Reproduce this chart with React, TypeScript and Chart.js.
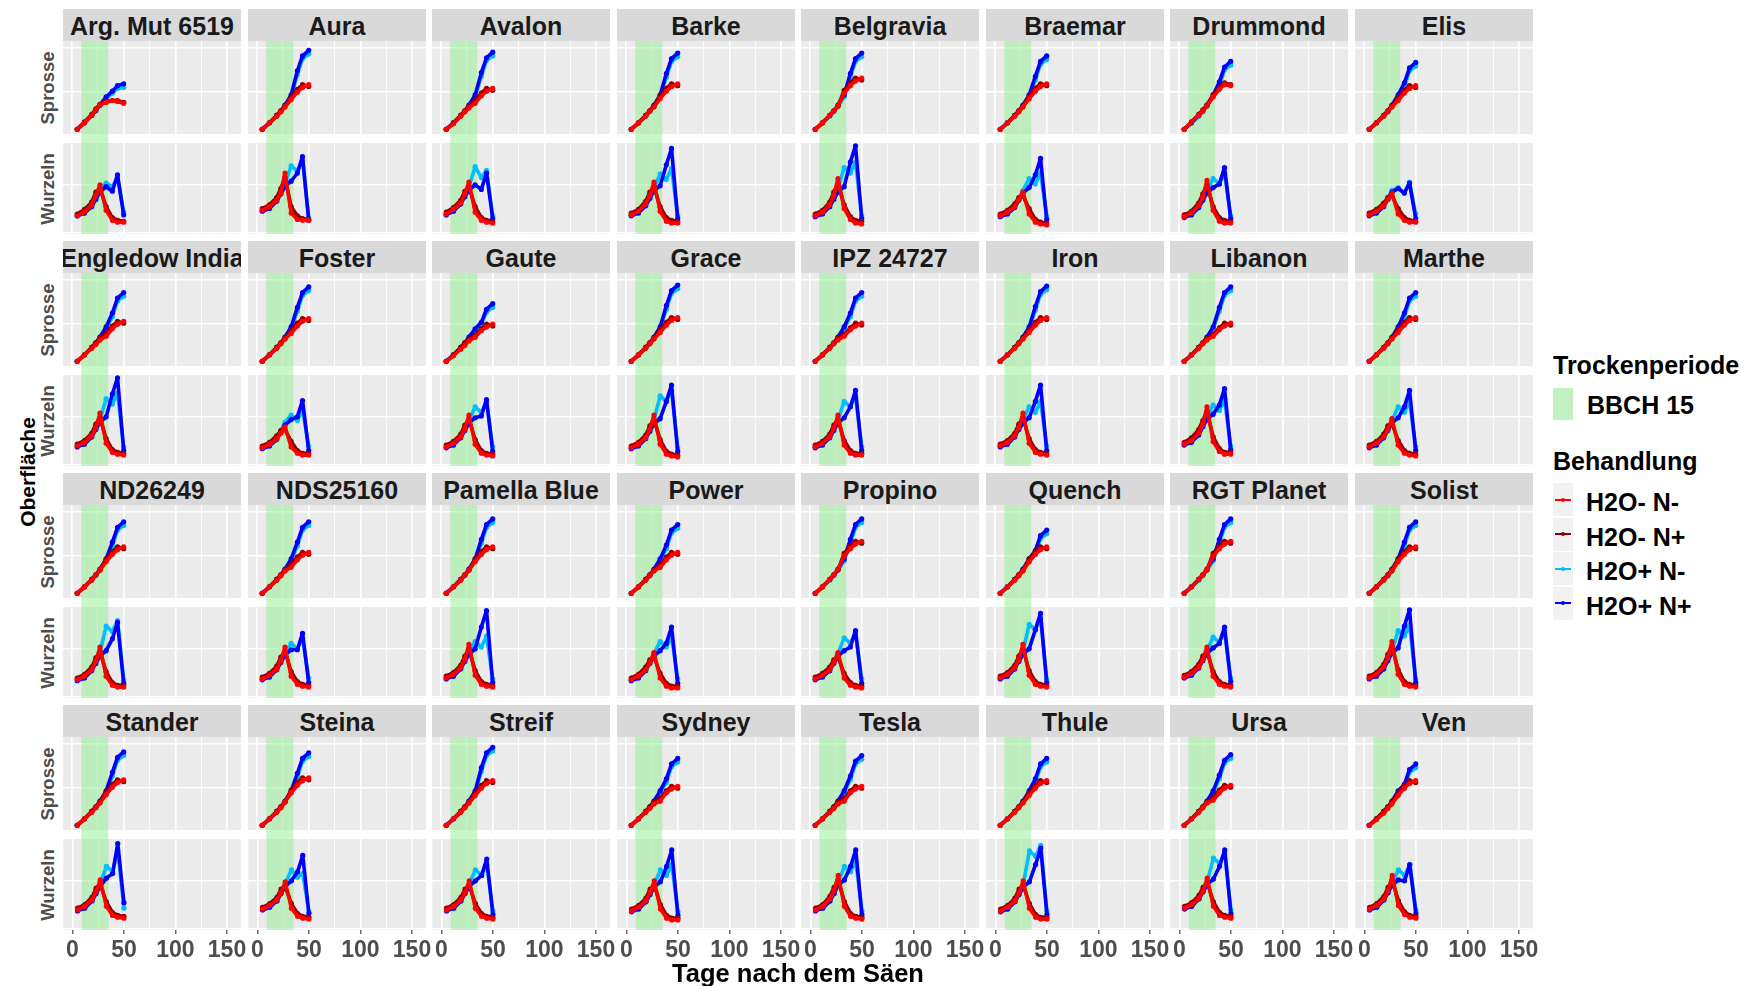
import React, { useEffect, useRef } from "react";
import { Chart, registerables } from "chart.js";
Chart.register(...registerables);

// ---------------- data ----------------
const VARIETIES = [
  "Arg. Mut 6519", "Aura", "Avalon", "Barke", "Belgravia", "Braemar", "Drummond", "Elis",
  "Engledow India", "Foster", "Gaute", "Grace", "IPZ 24727", "Iron", "Libanon", "Marthe",
  "ND26249", "NDS25160", "Pamella Blue", "Power", "Propino", "Quench", "RGT Planet", "Solist",
  "Stander", "Steina", "Streif", "Sydney", "Tesla", "Thule", "Ursa", "Ven",
];
const ORGANS = ["Sprosse", "Wurzeln"];
const TREATMENTS = ["H2O- N-", "H2O- N+", "H2O+ N-", "H2O+ N+"];
const TREATMENT_COLORS = ["#ff0000", "#8b0000", "#00bfff", "#0000ff"];
const DAYS = [5, 12, 19, 23, 27, 33, 39, 44, 50];
const DROUGHT_PERIOD = [9, 35];
const DROUGHT_LABEL = "BBCH 15";
const X_TICKS = [0, 25, 50, 75, 100, 125, 150];
const X_LABELED = [0, 50, 100, 150];
const X_LIMITS = [-8.8, 163.6];
const SPROSSE_GRID = [45.2, 93.2];
const WURZELN_GRID = [1.8, 54.4];

// Sprosse (shoot) – relative surface per day, one row per variety
const SPROSSE_H2O_MINUS_N_MINUS = [
  [5,12,20,26,31,34,36,35,33],[5,12,19,24,29,37,45,50,53],[5,11,19,24,28,33,41,46,49],[5,12,19,25,29,38,46,51,54],
  [5,12,20,25,30,44,52,57,60],[5,12,19,24,29,38,46,51,54],[5,13,20,25,30,40,48,53,52],[5,12,19,24,29,36,44,49,52],
  [5,12,19,23,28,32,40,45,48],[5,12,19,24,29,35,43,48,51],[5,11,18,22,27,31,38,42,45],[5,12,19,24,29,36,44,49,52],
  [5,12,19,24,28,32,39,43,46],[5,12,19,24,29,36,44,49,52],[5,12,19,24,28,32,39,43,46],[5,12,19,24,29,36,44,49,52],
  [5,12,19,25,30,39,47,52,55],[5,12,19,24,29,33,41,46,49],[5,12,19,25,30,39,47,52,55],[5,12,19,24,29,33,41,46,49],
  [5,12,20,25,31,45,53,58,61],[5,12,19,24,29,39,47,52,55],[5,12,20,25,31,45,53,58,61],[5,12,19,24,29,39,47,52,55],
  [5,12,19,24,29,38,46,51,54],[5,12,19,24,30,40,48,53,56],[5,12,19,24,29,37,45,50,53],[5,12,19,23,28,31,40,44,47],
  [5,12,19,23,28,31,40,44,47],[5,12,19,24,29,37,45,50,53],[5,12,19,24,29,32,40,45,48],[5,11,18,23,28,37,45,50,53],
];
const SPROSSE_H2O_MINUS_N_PLUS = [
  [5,13,21,27,32,35,36,36,34],[5,12,20,25,30,40,48,53,51],[5,12,20,25,30,36,44,49,47],[5,12,20,25,30,41,49,54,52],
  [5,12,20,25,30,47,55,60,58],[5,12,20,25,30,41,49,54,52],[5,13,21,26,31,42,50,55,53],[5,12,20,25,30,39,47,52,50],
  [5,12,20,25,30,35,43,48,46],[5,12,20,25,30,38,46,51,49],[5,12,20,25,29,33,40,45,43],[5,12,20,25,30,39,47,52,50],
  [5,12,20,25,30,34,41,46,44],[5,12,20,25,30,39,47,52,50],[5,12,20,25,30,34,41,46,44],[5,12,20,25,30,39,47,52,50],
  [5,12,20,25,30,42,50,55,53],[5,12,20,25,30,36,44,49,47],[5,12,20,25,30,42,50,55,53],[5,12,20,25,30,36,44,49,47],
  [5,12,20,25,30,48,56,61,59],[5,12,20,25,30,42,50,55,53],[5,12,20,25,30,48,56,61,59],[5,12,20,25,30,42,50,55,53],
  [5,12,20,25,30,41,49,54,52],[5,12,20,25,30,43,51,56,54],[5,12,20,25,30,40,48,53,51],[5,12,20,25,30,34,42,47,45],
  [5,12,20,25,30,34,42,47,45],[5,12,20,25,30,40,48,53,51],[5,12,20,25,30,35,43,48,46],[5,12,20,25,30,40,48,53,51],
];
const SPROSSE_H2O_PLUS_N_MINUS = [
  [5,12,20,26,31,38,44,49,50],[5,12,19,24,30,40,64,81,86],[5,12,19,24,30,40,62,79,84],[5,12,19,24,30,40,61,78,83],
  [5,12,19,24,30,40,61,78,83],[5,12,19,24,30,40,58,75,80],[5,12,19,24,30,40,52,69,74],[5,12,19,24,30,40,51,68,73],
  [5,12,19,24,30,40,53,70,75],[5,12,19,24,30,40,59,76,81],[5,12,19,24,30,38,45,58,63],[5,12,19,24,30,40,61,78,83],
  [5,12,19,24,30,40,53,70,75],[5,12,19,24,30,40,60,77,82],[5,12,19,24,30,40,59,76,81],[5,12,19,24,30,40,53,70,75],
  [5,12,19,24,30,40,56,73,78],[5,12,19,24,30,40,56,73,78],[5,12,19,24,30,40,59,76,81],[5,12,19,24,30,40,53,70,75],
  [5,12,19,24,30,40,59,76,81],[5,12,19,24,30,40,47,64,69],[5,12,19,24,30,40,59,76,81],[5,12,19,24,30,40,56,73,78],
  [5,12,19,24,30,40,58,75,80],[5,12,19,24,30,40,57,74,79],[5,12,19,24,30,40,63,80,85],[5,12,19,24,30,40,51,68,73],
  [5,12,19,24,30,40,54,71,76],[5,12,19,24,30,40,51,68,73],[5,12,19,24,30,40,55,72,77],[5,12,19,24,30,40,45,62,67],
];
const SPROSSE_H2O_PLUS_N_PLUS = [
  [5,12,20,25,31,40,46,52,54],[5,12,20,25,31,42,68,84,90],[5,12,20,25,31,42,66,82,88],[5,12,20,25,31,42,65,81,87],
  [5,12,20,25,31,42,65,81,87],[5,12,20,25,31,42,62,78,84],[5,12,20,25,31,42,56,72,78],[5,12,20,25,31,42,55,71,77],
  [5,12,20,25,31,42,57,73,79],[5,12,20,25,31,42,63,79,85],[5,12,20,25,31,40,47,61,67],[5,12,20,25,31,42,65,81,87],
  [5,12,20,25,31,42,57,73,79],[5,12,20,25,31,42,64,80,86],[5,12,20,25,31,42,63,79,85],[5,12,20,25,31,42,57,73,79],
  [5,12,20,25,31,42,60,76,82],[5,12,20,25,31,42,60,76,82],[5,12,20,25,31,42,63,79,85],[5,12,20,25,31,42,57,73,79],
  [5,12,20,25,31,42,63,79,85],[5,12,20,25,31,42,51,67,73],[5,12,20,25,31,42,63,79,85],[5,12,20,25,31,42,60,76,82],
  [5,12,20,25,31,42,62,78,84],[5,12,20,25,31,42,61,77,83],[5,12,20,25,31,42,67,83,89],[5,12,20,25,31,42,55,71,77],
  [5,12,20,25,31,42,58,74,80],[5,12,20,25,31,42,55,71,77],[5,12,20,25,31,42,59,75,81],[5,12,20,25,31,42,49,65,71],
];

// Wurzeln (roots)
const WURZELN_H2O_MINUS_N_MINUS = [
  [20,24,32,42,54,26,15,13,13],[26,30,37,45,67,23,16,15,15],[22,27,34,44,57,24,15,13,12],[21,25,33,42,57,25,14,12,12],
  [20,24,32,42,61,28,16,12,11],[20,24,30,38,46,22,13,11,10],[19,23,31,40,59,26,14,12,12],[21,25,31,38,45,22,15,13,13],
  [22,26,33,42,58,25,15,13,12],[20,24,30,36,43,21,14,12,12],[21,25,32,41,56,24,14,12,11],[20,24,31,40,56,24,13,11,10],
  [21,25,32,41,56,23,14,12,12],[22,26,33,42,58,25,15,13,12],[24,28,36,46,65,27,16,13,13],[21,25,32,40,52,23,14,12,11],
  [20,24,31,40,56,24,14,12,12],[21,25,32,41,56,24,15,13,12],[22,26,33,42,59,25,15,13,12],[20,24,31,39,50,22,13,11,11],
  [21,25,31,39,50,22,14,12,11],[22,26,33,42,59,25,15,13,12],[23,27,34,42,56,24,15,13,12],[22,26,34,44,62,26,15,13,12],
  [22,26,33,42,55,26,16,14,13],[23,27,33,41,53,24,15,13,12],[22,26,33,41,54,24,15,13,12],[21,25,32,41,54,23,13,11,11],
  [22,26,34,43,60,26,15,13,12],[21,25,32,41,54,24,14,12,12],[24,28,35,43,57,26,16,14,13],[23,27,34,43,60,27,17,14,13],
];
const WURZELN_H2O_MINUS_N_PLUS = [
  [22,27,35,46,50,30,18,15,14],[28,32,40,50,62,30,20,17,16],[24,29,37,47,52,30,18,15,14],[23,27,36,46,52,30,18,15,14],
  [22,26,35,46,56,32,19,15,14],[22,26,33,40,42,28,16,13,12],[21,25,34,44,54,30,18,15,14],[23,27,34,40,42,28,18,15,14],
  [24,28,36,46,53,30,18,15,14],[22,26,33,39,40,27,17,14,14],[23,27,35,45,51,29,17,14,13],[22,26,34,44,51,29,16,13,12],
  [23,27,35,45,51,28,17,14,14],[24,28,36,46,53,30,18,15,14],[26,31,40,50,60,32,19,15,15],[23,27,35,44,47,28,17,14,13],
  [22,26,34,44,51,29,17,14,14],[23,27,35,45,51,29,18,15,14],[24,28,36,46,54,30,18,15,14],[22,26,34,42,45,27,16,13,13],
  [23,27,34,42,45,27,17,14,13],[24,28,36,46,54,30,18,15,14],[25,29,37,46,51,29,18,15,14],[24,28,37,48,57,31,18,15,14],
  [24,28,36,46,50,31,19,16,15],[25,29,36,45,48,29,18,15,14],[24,28,36,45,49,29,18,15,14],[23,27,35,45,49,28,16,13,13],
  [24,28,37,47,55,31,18,15,14],[23,27,35,45,49,29,17,14,14],[26,30,38,47,52,31,19,16,15],[25,29,37,47,55,32,20,16,15],
];
const WURZELN_H2O_PLUS_N_MINUS = [
  [20,23,31,40,50,56,52,62,24],[26,29,37,46,55,75,69,81,18],[22,26,34,43,52,74,62,70,20],[21,24,32,41,50,66,60,72,20],
  [20,23,31,40,50,73,67,79,20],[20,23,30,39,48,61,55,67,20],[19,22,30,39,48,61,55,67,20],[21,24,31,40,48,51,45,57,22],
  [22,25,33,42,51,74,68,80,21],[20,23,30,39,48,56,50,62,22],[21,24,32,41,50,65,59,71,21],[20,23,31,40,50,77,71,83,20],
  [21,24,32,41,50,71,65,77,21],[22,25,33,42,50,65,59,71,22],[24,27,35,45,54,67,61,73,22],[21,24,32,41,50,65,59,71,21],
  [20,23,31,40,50,79,73,85,20],[21,24,32,41,50,60,54,66,22],[22,25,33,42,51,62,56,68,21],[20,23,31,40,49,62,56,68,21],
  [21,24,31,40,49,66,60,72,21],[22,25,33,42,51,81,75,87,21],[23,26,34,43,52,67,61,73,22],[22,25,33,43,52,74,68,80,21],
  [22,25,33,42,51,70,64,88,24],[23,26,33,42,51,66,58,62,20],[22,25,33,42,51,66,60,72,21],[21,24,32,41,50,66,60,72,20],
  [22,25,33,42,52,70,64,76,21],[21,24,32,41,50,87,81,93,21],[24,27,35,44,53,79,73,85,22],[23,26,34,43,52,66,60,72,22],
];
const WURZELN_H2O_PLUS_N_PLUS = [
  [20,23,30,38,46,52,47,65,21],[25,28,36,44,52,58,67,85,15],[21,25,33,41,48,54,49,67,17],[20,23,31,39,47,53,76,94,17],
  [19,22,30,38,46,52,79,97,17],[19,22,29,37,45,51,65,83,16],[18,21,29,37,45,51,55,73,17],[20,23,30,38,46,50,45,56,17],
  [21,24,32,40,48,54,79,97,17],[19,22,29,37,45,51,54,72,17],[20,23,31,39,47,53,55,73,16],[19,22,30,38,46,52,71,89,16],
  [20,23,31,39,47,53,65,83,17],[21,24,32,40,47,53,71,89,17],[23,26,34,43,51,57,67,85,18],[20,23,31,39,47,53,65,83,17],
  [19,22,30,38,46,52,65,83,16],[20,23,31,39,47,53,53,71,17],[21,24,32,40,48,54,78,96,17],[19,22,30,38,46,52,60,78,16],
  [20,23,30,38,46,52,56,74,16],[21,24,32,40,48,54,75,93,17],[22,25,33,41,49,55,60,78,18],[21,24,32,41,49,55,79,97,17],
  [21,24,32,40,48,57,62,95,30],[22,25,32,40,48,54,64,82,18],[21,24,32,40,48,54,60,78,17],[20,23,31,39,47,53,70,88,16],
  [21,24,32,40,49,55,70,88,17],[20,23,31,39,47,53,72,90,17],[23,26,34,42,50,56,70,88,18],[22,25,33,41,49,55,54,72,18],
];

const SERIES_BY_ORGAN = [
  [SPROSSE_H2O_MINUS_N_MINUS, SPROSSE_H2O_MINUS_N_PLUS, SPROSSE_H2O_PLUS_N_MINUS, SPROSSE_H2O_PLUS_N_PLUS],
  [WURZELN_H2O_MINUS_N_MINUS, WURZELN_H2O_MINUS_N_PLUS, WURZELN_H2O_PLUS_N_MINUS, WURZELN_H2O_PLUS_N_PLUS],
];
const GRID_BY_ORGAN = [SPROSSE_GRID, WURZELN_GRID];
const DRAW_ORDER = [0, 1, 3, 2]; // first one ends on top

// ---------------- layout ----------------
const FONT = '"Liberation Sans", Arial, Helvetica, sans-serif';
const NCOL = 8;
const NROW = 4;
const LEFT0 = 63;
const COL_STEP = 184.5;
const PANEL_W = 178;
const TOP0 = 9;
const BLOCK_STEP = 232;
const STRIP_H = 32;
const S_OFF = 32;
const S_H = 93;
const W_OFF = 134;
const W_H = 91;
const GAP_EXT = 9;
const TICK_AREA = 40;
const RIGHT_EXT = 26;

const panelDeco = {
  id: "panelDeco",
  beforeDraw(chart: any) {
    const { ctx, chartArea: a } = chart;
    ctx.save();
    ctx.fillStyle = "#ebebeb";
    ctx.fillRect(a.left, a.top, a.right - a.left, a.bottom - a.top);
    ctx.restore();
  },
  beforeDatasetsDraw(chart: any, _a: any, opts: any) {
    const { ctx, chartArea: a, scales } = chart;
    const x0 = scales.x.getPixelForValue(DROUGHT_PERIOD[0]);
    const x1 = scales.x.getPixelForValue(DROUGHT_PERIOD[1]);
    ctx.save();
    ctx.fillStyle = "rgba(144,238,144,0.5)";
    ctx.fillRect(x0, a.top, x1 - x0, a.bottom - a.top + (opts.extend || 0));
    ctx.restore();
  },
};

function Panel({ vi, organ }: { vi: number; organ: number }) {
  const ref = useRef<HTMLCanvasElement>(null);
  const row = Math.floor(vi / NCOL);
  const col = vi % NCOL;
  const bottomRow = organ === 1 && row === NROW - 1;
  const h = organ === 0 ? S_H : W_H;
  const ext = organ === 0 ? GAP_EXT : 0;
  const cw = PANEL_W + (bottomRow ? RIGHT_EXT : 0);
  const ch = h + ext + (bottomRow ? TICK_AREA : 0);
  const left = Math.round(LEFT0 + col * COL_STEP);
  const top = TOP0 + row * BLOCK_STEP + (organ === 0 ? S_OFF : W_OFF);

  useEffect(() => {
    const series = SERIES_BY_ORGAN[organ];
    const datasets = DRAW_ORDER.map((t) => ({
      label: TREATMENTS[t],
      data: DAYS.map((d, i) => ({ x: d, y: series[t][vi][i] })),
      borderColor: TREATMENT_COLORS[t],
      backgroundColor: TREATMENT_COLORS[t],
      borderWidth: 3.6,
      borderJoinStyle: "round",
      pointRadius: 2.6,
      pointHoverRadius: 0,
      pointBorderWidth: 0,
      tension: 0,
    }));
    const grid = GRID_BY_ORGAN[organ];
    const chart = new Chart(ref.current as HTMLCanvasElement, {
      type: "line",
      data: { datasets },
      options: {
        animation: false,
        responsive: false,
        events: [],
        layout: { autoPadding: false, padding: { left: 0, top: 0, right: bottomRow ? RIGHT_EXT : 0, bottom: ext } },
        plugins: {
          legend: { display: false },
          tooltip: { enabled: false },
          panelDeco: { extend: ext },
        } as any,
        scales: {
          x: {
            type: "linear",
            min: X_LIMITS[0],
            max: X_LIMITS[1],
            afterBuildTicks: (s: any) => {
              s.ticks = X_TICKS.map((v) => ({ value: v }));
            },
            afterFit: (s: any) => {
              s.height = bottomRow ? TICK_AREA : 0;
            },
            border: { display: false },
            grid: {
              color: "#ffffff",
              lineWidth: (c: any) => (c.tick && X_LABELED.includes(c.tick.value) ? 1.6 : 0.8),
              drawTicks: bottomRow,
              tickLength: 4,
              tickWidth: 1.1,
              tickColor: (c: any) => (c.tick && X_LABELED.includes(c.tick.value) ? "#333333" : "rgba(0,0,0,0)"),
            },
            ticks: {
              display: bottomRow,
              autoSkip: false,
              maxRotation: 0,
              minRotation: 0,
              padding: 3,
              color: "#4d4d4d",
              font: { family: FONT, size: 23, weight: "bold" },
              callback: (v: any) => (X_LABELED.includes(Number(v)) ? String(v) : ""),
            },
          },
          y: {
            type: "linear",
            min: 0,
            max: 100,
            afterBuildTicks: (s: any) => {
              s.ticks = grid.map((v) => ({ value: v }));
            },
            afterFit: (s: any) => {
              s.width = 0;
            },
            border: { display: false },
            grid: { color: "#ffffff", lineWidth: 1.6, drawTicks: false },
            ticks: { display: false },
          },
        },
      } as any,
      plugins: [panelDeco as any],
    });
    return () => chart.destroy();
  }, []);

  return (
    <canvas
      ref={ref}
      width={cw}
      height={ch}
      style={{ position: "absolute", left, top, width: cw, height: ch, display: "block" }}
    />
  );
}

function Strip({ vi }: { vi: number }) {
  const row = Math.floor(vi / NCOL);
  const col = vi % NCOL;
  return (
    <div
      style={{
        position: "absolute",
        left: Math.round(LEFT0 + col * COL_STEP),
        top: TOP0 + row * BLOCK_STEP,
        width: PANEL_W,
        height: STRIP_H,
        background: "#d9d9d9",
        overflow: "hidden",
        display: "flex",
        justifyContent: "center",
        alignItems: "center",
        whiteSpace: "nowrap",
        fontFamily: FONT,
        fontWeight: "bold",
        fontSize: 25,
        color: "#1a1a1a",
        paddingTop: 3,
        boxSizing: "border-box",
      }}
    >
      {VARIETIES[vi]}
    </div>
  );
}

function Rotated({ text, cx, cy, size, color }: { text: string; cx: number; cy: number; size: number; color: string }) {
  return (
    <div
      style={{
        position: "absolute",
        left: cx,
        top: cy,
        transform: "translate(-50%, -50%) rotate(-90deg)",
        whiteSpace: "nowrap",
        fontFamily: FONT,
        fontWeight: "bold",
        fontSize: size,
        color,
        lineHeight: 1,
      }}
    >
      {text}
    </div>
  );
}

export default function App() {
  const panels: any[] = [];
  const strips: any[] = [];
  VARIETIES.forEach((_, vi) => {
    strips.push(<Strip key={"s" + vi} vi={vi} />);
    ORGANS.forEach((_o, oi) => panels.push(<Panel key={vi + "-" + oi} vi={vi} organ={oi} />));
  });
  const rowLabels: any[] = [];
  for (let r = 0; r < NROW; r++) {
    const bt = TOP0 + r * BLOCK_STEP;
    rowLabels.push(<Rotated key={"rs" + r} text={ORGANS[0]} cx={48} cy={bt + S_OFF + S_H / 2} size={18.5} color="#4d4d4d" />);
    rowLabels.push(<Rotated key={"rw" + r} text={ORGANS[1]} cx={48} cy={bt + W_OFF + W_H / 2} size={18.5} color="#4d4d4d" />);
  }
  const legendTop = [483, 517.5, 552, 586.5];
  const textStyle: any = { position: "absolute", fontFamily: FONT, fontWeight: "bold", whiteSpace: "nowrap", color: "#000" };
  return (
    <div style={{ position: "fixed", left: 0, top: 0, width: 1749, height: 986, background: "#ffffff", overflow: "hidden" }}>
      {strips}
      {panels}
      {rowLabels}
      <Rotated text="Oberfläche" cx={27} cy={472} size={21} color="#000" />
      <div style={{ ...textStyle, left: 798, top: 973, transform: "translate(-50%, -50%)", fontSize: 25.5 }}>Tage nach dem Säen</div>
      {/* legend */}
      <div style={{ ...textStyle, left: 1553, top: 365, transform: "translateY(-50%)", fontSize: 25 }}>Trockenperiode</div>
      <div style={{ position: "absolute", left: 1553, top: 388, width: 20, height: 32, background: "#f2f2f2" }}>
        <div style={{ width: "100%", height: "100%", background: "rgba(144,238,144,0.5)" }} />
      </div>
      <div style={{ ...textStyle, left: 1587, top: 405, transform: "translateY(-50%)", fontSize: 25 }}>{DROUGHT_LABEL}</div>
      <div style={{ ...textStyle, left: 1553, top: 461, transform: "translateY(-50%)", fontSize: 25 }}>Behandlung</div>
      {TREATMENTS.map((t, i) => (
        <React.Fragment key={t}>
          <div style={{ position: "absolute", left: 1553, top: legendTop[i], width: 20, height: 33, background: "#f2f2f2" }}>
            <div style={{ position: "absolute", left: 2, right: 2, top: 15.5, height: 2, background: TREATMENT_COLORS[i] }} />
            <div style={{ position: "absolute", left: 8, top: 14.5, width: 4, height: 4, borderRadius: 2, background: TREATMENT_COLORS[i] }} />
          </div>
          <div style={{ ...textStyle, left: 1586, top: legendTop[i] + 19, transform: "translateY(-50%)", fontSize: 25 }}>{t}</div>
        </React.Fragment>
      ))}
    </div>
  );
}
